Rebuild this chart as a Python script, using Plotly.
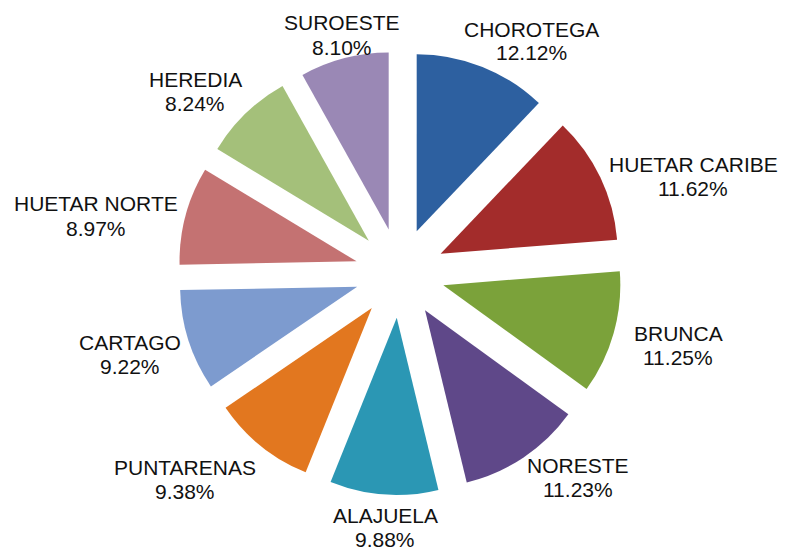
import plotly.graph_objects as go

regions = ["CHOROTEGA", "HUETAR CARIBE", "BRUNCA", "NORESTE", "ALAJUELA",
           "PUNTARENAS", "CARTAGO", "HUETAR NORTE", "HEREDIA", "SUROESTE"]
shares = [12.12, 11.62, 11.25, 11.23, 9.88, 9.38, 9.22, 8.97, 8.24, 8.10]
colors = ["#2D60A0", "#A32C2B", "#7BA23A", "#5F4889", "#2B97B4",
          "#E2771F", "#7D9BCF", "#C47272", "#A4C07A", "#9A88B5"]

# label block centres (pixels), matching the original's data-label placement
label_px = [(531, 41), (693, 176), (678, 345), (578, 477), (385, 527),
            (185, 479), (130, 354), (96, 216), (195, 91), (342, 35)]
line_gap = 24  # px between the name line and the percentage line

W, H = 785, 550
cx, cy, R = 400, 273, 222  # centre and outer reach of pulled slices (px)
pull = 0.254
t, b = cy - R, H - (cy + R)
ph = H - t - b

fig = go.Figure(go.Pie(
    labels=regions,
    values=shares,
    sort=False,
    direction="clockwise",
    rotation=0,
    pull=[pull] * len(regions),
    marker=dict(colors=colors, line=dict(width=0)),
    textinfo="none",
    showlegend=False,
    hoverinfo="label+value",
    domain=dict(x=[(cx - R) / W, (cx + R) / W], y=[0, 1]),
    automargin=False,
))

font = dict(family="Liberation Sans, Arial, sans-serif", size=21, color="#111111")
for name, val, (px, py) in zip(regions, shares, label_px):
    for txt, yy in ((name, py - line_gap / 2), (f"{val:.2f}%", py + line_gap / 2)):
        fig.add_annotation(
            x=px / W, y=1 - (yy - t) / ph, xref="paper", yref="paper",
            text=txt, showarrow=False,
            xanchor="center", yanchor="middle", align="center", font=font,
        )

fig.update_layout(
    width=W, height=H,
    margin=dict(l=0, r=0, t=t, b=b),
    paper_bgcolor="white",
    plot_bgcolor="white",
)

fig.write_html("out.html", config={"displayModeBar": False},
               post_script="document.body.style.margin='0';")
